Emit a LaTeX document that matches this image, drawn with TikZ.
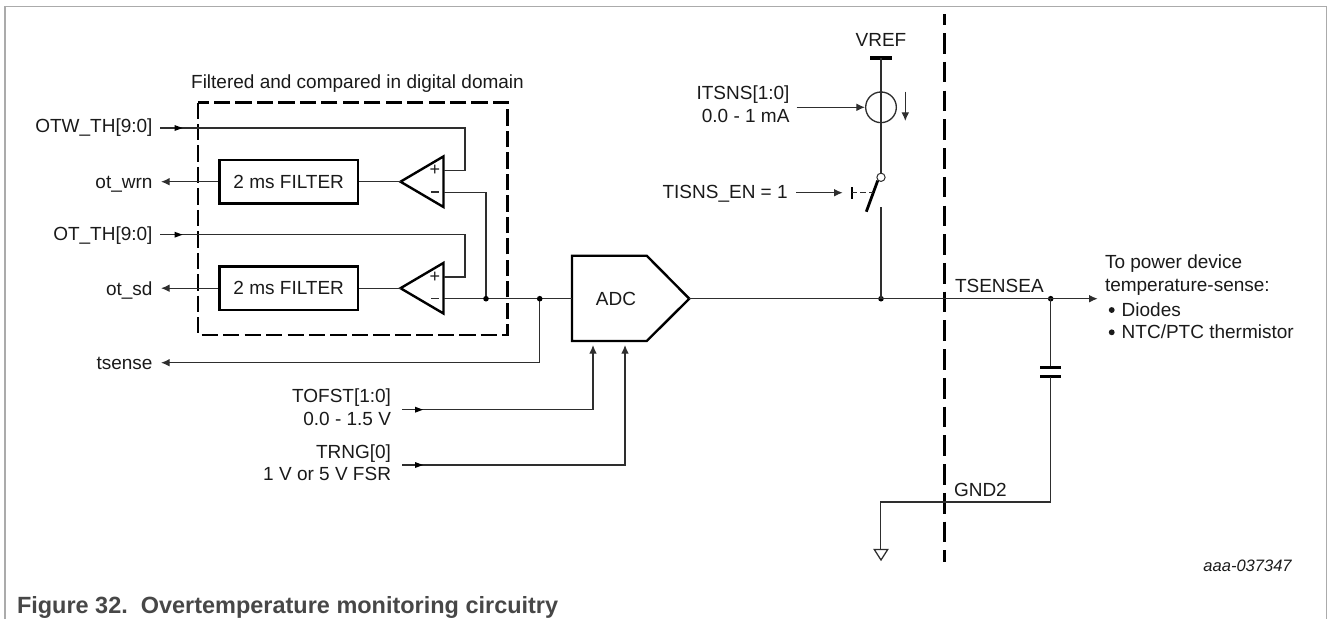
\documentclass[tikz,border=0pt]{standalone}
\usepackage{fontspec}
\setmainfont{Liberation Sans}
\usetikzlibrary{arrows.meta}
\definecolor{ink}{HTML}{1A1A1A}
\definecolor{wire}{HTML}{2E2E2E}
\definecolor{framegray}{HTML}{ABABAB}
\tikzset{
  x=0.75pt,y=-0.75pt,
  wireline/.style={draw=wire,line width=0.95pt},
  arr/.style={wireline,-{Latex[length=6.5pt,width=5.8pt]}},
  thick box/.style={draw=black,line width=1.8pt,line join=miter},
  lbl/.style={inner sep=0pt,outer sep=0pt,font=\fontsize{14.25pt}{17pt}\selectfont,text=ink},
  dash box/.style={draw=black,line width=1.75pt,dash pattern=on 12.2pt off 3.9pt},
  dash div/.style={draw=black,line width=1.75pt,dash pattern=on 15.5pt off 6.06pt,dash phase=7.3pt},
  dotnode/.style={circle,fill=black,inner sep=0pt,minimum size=4.2pt},
  filterbox/.style={thick box,rectangle,minimum width=104pt,minimum height=32.5pt,inner sep=0pt,font=\fontsize{14.25pt}{17pt}\selectfont,text=ink},
}
\begin{document}
\begin{tikzpicture}
\useasboundingbox (0,0) rectangle (1328,619);
% frame
\draw[color=framegray,line width=1.1pt] (5,619) -- (5,6.5) -- (1326.5,6.5) -- (1326.5,619);
% dashed
\draw[dash box] (198,102.5) rectangle (507.5,335);
\draw[dash div] (944.5,14) -- (944.5,561.7);
\node[lbl,anchor=base] (ftitle) at (357.5,88) {Filtered and compared in digital domain};
% filters
\node[filterbox] (f1) at (288.7,181.7) {2 ms FILTER};
\node[filterbox] (f2) at (288.7,288.2) {2 ms FILTER};
% comparators
\foreach \n/\y in {c1/181.7,c2/288.2}{
  \coordinate (\n t) at (400.5,\y);
  \coordinate (\n p) at (443.5,\y-11.2);
  \coordinate (\n m) at (443.5,\y+10.5);
  \draw[thick box] (400.5,\y) -- (443.5,\y-25.3) -- (443.5,\y+25.3) -- cycle;
  \node[lbl,anchor=center,font=\fontsize{13.5pt}{15pt}\selectfont] at (435,\y-11) {+};
  \draw[wire,line width=1.1pt] (431,\y+10.5) -- (439,\y+10.5);
}
% labels left
\node[lbl,anchor=base east] (otw) at (152.5,132.7) {OTW\_TH[9:0]};
\node[lbl,anchor=base east] (wrn) at (152.5,188.3) {ot\_wrn};
\node[lbl,anchor=base east] (ot)  at (152.5,240) {OT\_TH[9:0]};
\node[lbl,anchor=base east] (sd)  at (152.5,295) {ot\_sd};
\node[lbl,anchor=base east] (ts)  at (152.5,369) {tsense};
% ADC
\draw[thick box] (572,255.7) -- (646.7,255.7) -- (689.3,298.7) -- (646.7,341) -- (572,341) -- cycle;
\node[lbl,anchor=base] (adc) at (616,305) {ADC};
\coordinate (adcin) at (572,298.7);
\coordinate (adcout) at (689.3,298.7);
% wires
\coordinate (j1) at (486,298.7);
\coordinate (j2) at (539.7,298.7);
\coordinate (j3) at (881,298.7);
\coordinate (j4) at (1050.7,298.7);
\draw[wireline] (160,128) -- (465,128) -- (465,170.5) -- (c1p);
\draw[wireline] (160,234.7) -- (465,234.7) -- (465,277) -- (c2p);
\fill[black] (182.5,128) -- (174.5,125) -- (174.5,131) -- cycle;
\fill[black] (182.5,234.7) -- (174.5,231.7) -- (174.5,237.7) -- cycle;
\draw[arr] (f1.west) -- (161,181.7);
\draw[arr] (f2.west) -- (161,288.2);
\draw[wireline] (f1.east) -- (c1t);
\draw[wireline] (f2.east) -- (c2t);
\draw[wireline] (c1m) -- (486,192.2) -- (j1);
\draw[wireline] (c2m) -- (adcin);
\draw[arr] (j2) -- (539.7,362.7) -- (161,362.7);
\node[dotnode] (d1) at (j1) {};
\node[dotnode] (d2) at (j2) {};
\node[dotnode] (d3) at (j3) {};
\node[dotnode] (d4) at (j4) {};
% ADC inputs
\node[lbl,align=right,anchor=east] (tof) at (391,407.4) {TOFST[1:0]\\0.0 - 1.5 V};
\node[lbl,align=right,anchor=east] (trn) at (391,462.7) {TRNG[0]\\1 V or 5 V FSR};
\draw[arr] (402.3,409.7) -- (593,409.7) -- (593,345);
\draw[arr] (402.3,465) -- (625,465) -- (625,345);
\fill[black] (423,409.7) -- (415,406.7) -- (415,412.7) -- cycle;
\fill[black] (423,465) -- (415,462) -- (415,468) -- cycle;
% output
\draw[wireline] (adcout) -- (j3);
\draw[arr] (j3) -- (1097.7,298.7);
% VREF branch
\node[lbl,anchor=base] (vref) at (881,46.7) {VREF};
\draw[black,line width=2.5pt] (870,58) -- (891.7,58);
\node[draw=wire,line width=1pt,circle,minimum size=23pt,inner sep=0pt] (src) at (881,107.3) {};
\draw[wireline] (881,58) -- (881,173.2);
\node[draw=wire,fill=white,line width=0.75pt,circle,minimum size=6.2pt,inner sep=0pt] (swc) at (881,177.3) {};
\draw[black,line width=2.1pt] (swc.south west) -- (866.3,211.7);
\draw[wireline] (881,207.3) -- (j3);
\draw[arr] (905.3,91.7) -- (905.3,121);
\node[lbl,align=right,anchor=east] (its) at (789.5,104.3) {ITSNS[1:0]\\0.0 - 1 mA};
\draw[arr] (796.7,107.3) -- (src.west);
\node[lbl,anchor=base east] (tis) at (787.7,198.3) {TISNS\_EN = 1};
\draw[arr] (796,192.7) -- (842.7,192.7);
\draw[black,line width=1.6pt] (851.7,187) -- (851.7,198.5);
\draw[wire,line width=0.9pt,dash pattern=on 4pt off 2.5pt] (851.7,192.7) -- (873,192.7);
% right
\node[lbl,anchor=base west] (tsa) at (955,292) {TSENSEA};
\node[lbl,anchor=base west] (gnd) at (954,496) {GND2};
\node[lbl,anchor=west,align=left] (to) at (1105,275.2) {To power device\\temperature-sense:};
\node[lbl,anchor=base west] (dio) at (1121.7,316) {Diodes};
\node[lbl,anchor=base west] (ntc) at (1121.7,338) {NTC/PTC thermistor};
\fill[ink] (1111.7,310) circle (2.2pt);
\fill[ink] (1111.7,332.3) circle (2.2pt);
% capacitor
\coordinate (cu) at (1050.7,367.7);
\coordinate (cd) at (1050.7,376.7);
\draw[wireline] (j4) -- (cu);
\draw[black,line width=2.5pt] (1040,367.7) -- (1061,367.7);
\draw[black,line width=2.5pt] (1040,376.7) -- (1061,376.7);
\draw[wireline] (cd) -- (1050.7,502) -- (880.7,502) -- (880.7,549.5);
\draw[wire,line width=0.95pt,line join=miter,fill=white] (874.3,549.5) -- (887.7,549.5) -- (881,560) -- cycle;
% footer
\node[lbl,anchor=base east,font=\fontsize{12.4pt}{14pt}\itshape] (id) at (1291.7,571) {aaa-037347};
\node[lbl,anchor=base west,font=\fontsize{17.6pt}{19pt}\bfseries,text=black!72] (cap) at (17,613) {Figure 32.\ \ Overtemperature monitoring circuitry};
\end{tikzpicture}
\end{document}
